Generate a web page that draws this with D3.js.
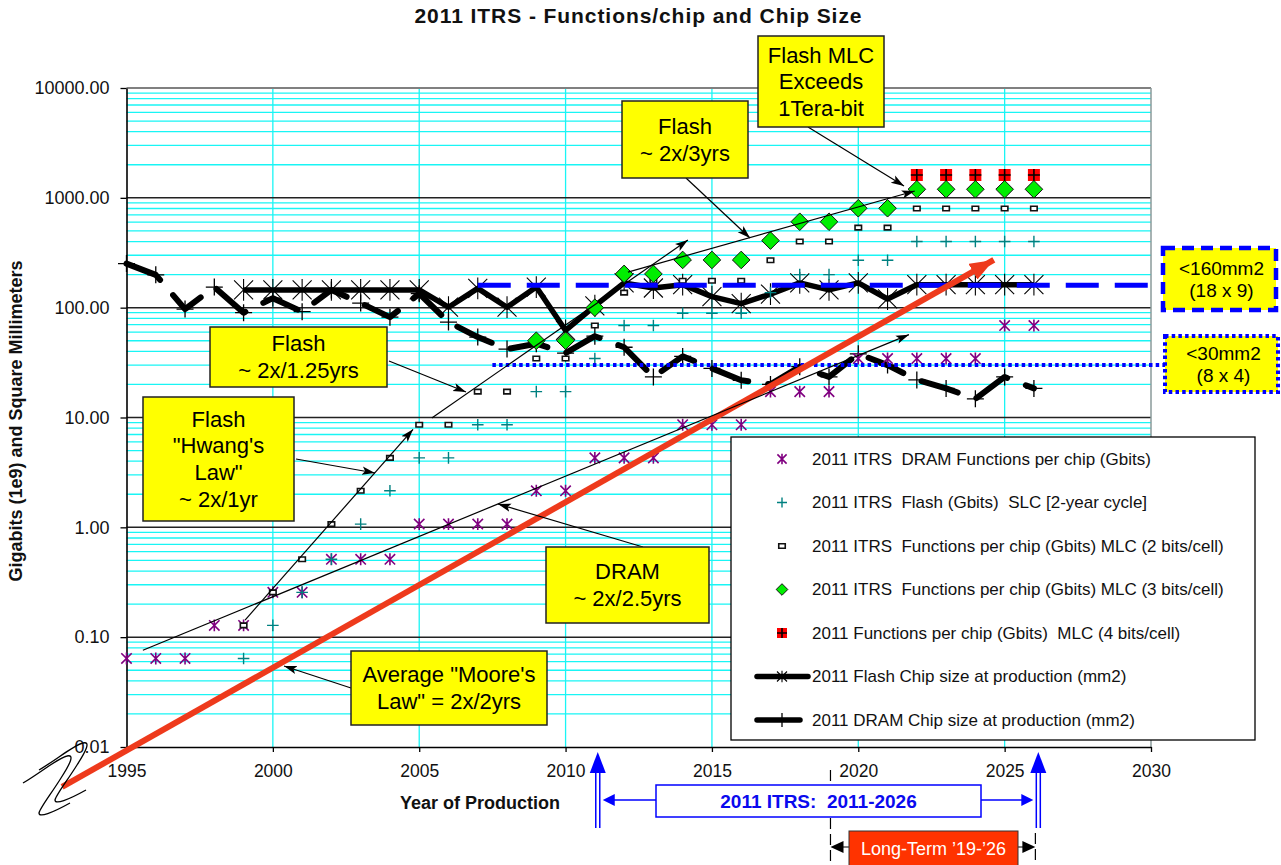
<!DOCTYPE html>
<html>
<head>
<meta charset="utf-8">
<title>2011 ITRS - Functions/chip and Chip Size</title>
<script src="https://cdn.jsdelivr.net/npm/d3@7"></script>
<style>
  body { margin: 0; background: #fff; }
  svg { display: block; font-family: "Liberation Sans", Arial, sans-serif; }
</style>
</head>
<body>
<svg id="chart" width="1281" height="865"></svg>
<script>
// ---- data ----
const years = [1995, 1996, 1997, 1998, 1999, 2000, 2001, 2002, 2003, 2004, 2005, 2006, 2007, 2008, 2009, 2010,
               2011, 2012, 2013, 2014, 2015, 2016, 2017, 2018, 2019, 2020, 2021, 2022, 2023, 2024, 2025, 2026];

// Gbits per chip
const dramGbits = [0.064, 0.064, 0.064, 0.128, 0.128, 0.256, 0.256, 0.512, 0.512, 0.512, 1.07, 1.07, 1.07, 1.07, 2.15, 2.15,
                   4.29, 4.29, 4.29, 8.59, 8.59, 8.59, 17.2, 17.2, 17.2, 34.4, 34.4, 34.4, 34.4, 34.4, 68.7, 68.7];
const flashSlcGbits = [null, null, null, null, 0.064, 0.128, 0.256, 0.512, 1.07, 2.15, 4.29, 4.29, 8.59, 8.59, 17.2, 17.2,
                       34.4, 68.7, 68.7, 89, 89, 89, 137, 200, 200, 270, 270, 400, 400, 400, 400, 400];
const mlc2Gbits = [null, null, null, null, 0.128, 0.256, 0.512, 1.07, 2.15, 4.29, 8.59, 8.59, 17.2, 17.2, 34.4, 34.4,
                   68.7, 137, 176, 176, 176, 176, 270, 400, 400, 535, 535, 800, 800, 800, 800, 800];
const mlc3Gbits = [null, null, null, null, null, null, null, null, null, null, null, null, null, null, 50, 50,
                   100, 203, 203, 272, 272, 272, 408, 606, 606, 804, 804, 1197, 1197, 1197, 1197, 1197];
const mlc4Gbits = [null, null, null, null, null, null, null, null, null, null, null, null, null, null, null, null,
                   null, null, null, null, null, null, null, null, null, null, null, 1614, 1614, 1614, 1614, 1614];

// chip size, mm2
const flashChipMm2 = [null, null, null, null, 145, 145, 145, 145, 145, 145, 145, 101, 150, 101, 154, 62,
                      104, 168, 151, 162, 126, 109, 133, 168, 145, 168, 120, 162, 162, 162, 162, 162];
const dramChipMm2 = [252, 199, 97, 154, 90, 122, 92, 145, 110, 82, 134, 74, 54, 42, 47, 38.6,
                     55, 43.6, 23.4, 36, 28, 21.8, 20, 29, 23.4, 38, 30, 22, 18.4, 14.8, 23.4, 18.4];

// trend lines, [year, value]
const dramTrend = [[1995.56, 0.076], [2021.73, 56.8]];
const hwangTrend = [[1999.05, 0.143], [2004.79, 7.8]];
const flash125Trend = [[2005.43, 9.9], [2014.18, 413]];
const flash3Trend = [[2012.13, 211], [2021.93, 1153]];
const mooreTrend = [[1992.8, 0.00433], [2024.63, 272]];

// chip-size limits, [start year, mm2]
const limit160 = [2007.0, 160];
const limit30 = [2007.5, 30];

const itrsSpan = [2011.1, 2026.15];
const longTermSpan = [2019.05, 2026.05];

const yTicks = [0.01, 0.1, 1, 10, 100, 1000, 10000];
const xTicks = [1995, 2000, 2005, 2010, 2015, 2020, 2025, 2030];

const legendLabels = [
  "2011 ITRS  DRAM Functions per chip (Gbits)",
  "2011 ITRS  Flash (Gbits)  SLC [2-year cycle]",
  "2011 ITRS  Functions per chip (Gbits) MLC (2 bits/cell)",
  "2011 ITRS  Functions per chip (Gbits) MLC (3 bits/cell)",
  "2011 Functions per chip (Gbits)  MLC (4 bits/cell)",
  "2011 Flash Chip size at production (mm2)",
  "2011 DRAM Chip size at production (mm2)"
];

// ---- chart ----
const svg = d3.select("#chart");
const x = d3.scaleLinear().domain([1995, 2030]).range([126.5, 1151]);
const y = d3.scaleLog().domain([0.01, 10000]).range([747, 88]);

const rows = years.map((yr, i) => ({
  year: yr, dram: dramGbits[i], slc: flashSlcGbits[i], mlc2: mlc2Gbits[i],
  mlc3: mlc3Gbits[i], mlc4: mlc4Gbits[i], flashChip: flashChipMm2[i], dramChip: dramChipMm2[i]
}));

const defs = svg.append("defs");
defs.append("marker").attr("id", "arrowBlack").attr("markerUnits", "userSpaceOnUse")
    .attr("markerWidth", 14).attr("markerHeight", 10).attr("refX", 13).attr("refY", 5)
    .attr("orient", "auto")
  .append("path").attr("d", "M0,0.8L13,5L0,9.2L3,5Z").attr("fill", "#000");
defs.append("marker").attr("id", "arrowRed").attr("markerUnits", "userSpaceOnUse")
    .attr("markerWidth", 26).attr("markerHeight", 18).attr("refX", 24).attr("refY", 9)
    .attr("orient", "auto")
  .append("path").attr("d", "M0,0L24,9L0,18Z").attr("fill", "#ee3a1c");

// grid
const minorTicks = yTicks.slice(0, -1).flatMap(d => [2, 3, 4, 5, 6, 7, 8, 9].map(k => d * k));
const grid = svg.append("g");
grid.selectAll(".minor").data(minorTicks).enter().append("line")
    .attr("x1", x(1995)).attr("x2", x(2030))
    .attr("y1", d => y(d)).attr("y2", d => y(d))
    .attr("stroke", "#19f5f5").attr("stroke-width", 1.3);
grid.selectAll(".vgrid").data(xTicks.slice(1, -1)).enter().append("line")
    .attr("x1", d => x(d)).attr("x2", d => x(d))
    .attr("y1", y(10000)).attr("y2", y(0.01))
    .attr("stroke", "#19f5f5").attr("stroke-width", 1.3);
grid.selectAll(".major").data(yTicks.slice(1, -1)).enter().append("line")
    .attr("x1", x(1995)).attr("x2", x(2030))
    .attr("y1", d => y(d)).attr("y2", d => y(d))
    .attr("stroke", "#222").attr("stroke-width", 1.5);
grid.append("line").attr("x1", x(1995)).attr("x2", x(2030)).attr("y1", y(10000)).attr("y2", y(10000))
    .attr("stroke", "#808080").attr("stroke-width", 2);
grid.append("line").attr("x1", x(2030)).attr("x2", x(2030)).attr("y1", y(10000)).attr("y2", y(0.01))
    .attr("stroke", "#8a9a9a").attr("stroke-width", 1.5);

// axes
const yAxis = d3.axisLeft(y).tickValues(yTicks).tickFormat(d3.format(".2f"))
    .tickSize(6).tickSizeOuter(0).tickPadding(11);
const gy = svg.append("g").attr("transform", `translate(${x(1995)},0)`).call(yAxis);
const xAxis = d3.axisBottom(x).tickValues(xTicks).tickFormat(d3.format("d"))
    .tickSize(5).tickSizeOuter(0).tickPadding(13);
const gx = svg.append("g").attr("transform", `translate(0,${y(0.01)})`).call(xAxis);
[gy, gx].forEach(g => {
  g.select(".domain").attr("stroke", "#000").attr("stroke-width", 1.6);
  g.selectAll(".tick line").attr("stroke", "#000").attr("stroke-width", 1.3);
  g.selectAll("text").attr("font-size", 18).attr("fill", "#111")
   .attr("font-family", "'Liberation Sans', Arial, sans-serif");
});
gx.selectAll("text").attr("font-size", 17.5);

// marker shapes
const shapes = {
  star: s => `M${-s},${-s}L${s},${s}M${-s},${s}L${s},${-s}M0,${-s * 1.15}L0,${s * 1.15}`,
  plus: s => `M${-s},0L${s},0M0,${-s}L0,${s}`,
  diamond: s => `M0,${-s}L${s},0L0,${s}L${-s},0Z`,
  rect: (w, h) => `M${-w / 2},${-h / 2}h${w}v${h}h${-w}Z`
};
function drawMarker(g, type, cx, cy, small) {
  const t = `translate(${cx},${cy})`;
  if (type === "dram") {
    g.append("path").attr("transform", t).attr("d", shapes.star(small ? 4.6 : 5.2))
     .attr("stroke", "#800080").attr("stroke-width", 1.6).attr("fill", "none");
  } else if (type === "slc") {
    g.append("path").attr("transform", t).attr("d", shapes.plus(small ? 5 : 5.8))
     .attr("stroke", "#008080").attr("stroke-width", 1.4).attr("fill", "none");
  } else if (type === "mlc2") {
    g.append("path").attr("transform", t).attr("d", shapes.rect(6.5, 4.5))
     .attr("stroke", "#111").attr("stroke-width", 1.6).attr("fill", "#fff");
  } else if (type === "mlc3") {
    g.append("path").attr("transform", t).attr("d", shapes.diamond(small ? 5.8 : 8.8))
     .attr("stroke", "#111").attr("stroke-width", 1).attr("fill", "#00ee00");
  } else if (type === "mlc4") {
    const s = small ? 10 : 12;
    g.append("path").attr("transform", t).attr("d", shapes.rect(s, s)).attr("fill", "#ff0000");
    g.append("path").attr("transform", t).attr("d", shapes.plus(s / 2))
     .attr("stroke", "#000").attr("stroke-width", 1.6).attr("fill", "none");
  } else if (type === "flashChip") {
    g.append("path").attr("transform", t).attr("d", shapes.star(small ? 5 : 9.5))
     .attr("stroke", "#000").attr("stroke-width", 1.1).attr("fill", "none");
  } else if (type === "dramChip") {
    g.append("path").attr("transform", t).attr("d", small ? "M0,-7L0,7" : shapes.plus(8.5))
     .attr("stroke", "#000").attr("stroke-width", 1.3).attr("fill", "none");
  }
}

// chip-size lines
const lineFor = key => d3.line().defined(d => d[key] != null).x(d => x(d.year)).y(d => y(d[key]));
svg.append("path").datum(rows).attr("d", lineFor("dramChip"))
    .attr("fill", "none").attr("stroke", "#000").attr("stroke-width", 6)
    .attr("stroke-dasharray", "38 20").attr("stroke-linecap", "round").attr("stroke-linejoin", "round");
svg.append("path").datum(rows).attr("d", lineFor("flashChip"))
    .attr("fill", "none").attr("stroke", "#000").attr("stroke-width", 5.5).attr("stroke-linejoin", "round");

const marks = svg.append("g");
["dramChip", "flashChip", "dram", "slc", "mlc2", "mlc3", "mlc4"].forEach(key => {
  rows.filter(d => d[key] != null).forEach(d => drawMarker(marks, key, x(d.year), y(d[key]), false));
});

// limit lines
svg.append("line").attr("x1", x(limit160[0])).attr("x2", 1163)
    .attr("y1", y(limit160[1])).attr("y2", y(limit160[1]))
    .attr("stroke", "#0000ff").attr("stroke-width", 5).attr("stroke-dasharray", "33 16");
svg.append("line").attr("x1", x(limit30[0])).attr("x2", 1165)
    .attr("y1", y(limit30[1])).attr("y2", y(limit30[1]))
    .attr("stroke", "#0000ff").attr("stroke-width", 4).attr("stroke-dasharray", "3.5 3.2");

// Moore's law line
svg.append("line")
    .attr("x1", x(mooreTrend[0][0])).attr("y1", y(mooreTrend[0][1]))
    .attr("x2", x(mooreTrend[1][0])).attr("y2", y(mooreTrend[1][1]))
    .attr("stroke", "#ee3a1c").attr("stroke-width", 6).attr("marker-end", "url(#arrowRed)");

// trend lines
[dramTrend, hwangTrend, flash125Trend, flash3Trend].forEach(t => {
  svg.append("line")
      .attr("x1", x(t[0][0])).attr("y1", y(t[0][1]))
      .attr("x2", x(t[1][0])).attr("y2", y(t[1][1]))
      .attr("stroke", "#000").attr("stroke-width", 1.2).attr("marker-end", "url(#arrowBlack)");
});

// axis break symbol
const zPath = "M23,783 C40,773 58,758 67,756 C75,754 70,764 61,778 C51,794 40,808 39,813 C39,818 52,813 70,803";
svg.append("path").attr("d", zPath).attr("fill", "none").attr("stroke", "#000").attr("stroke-width", 1.3);
svg.append("path").attr("d", zPath).attr("transform", "translate(16,-13)")
    .attr("fill", "none").attr("stroke", "#000").attr("stroke-width", 1.3);

// callout boxes
const callouts = [
  { lines: ["Flash", "~ 2x/1.25yrs"], box: [210, 327, 177, 60], arrow: [[389, 361], [466, 392]] },
  { lines: ["Flash", "\"Hwang's", "Law\"", "~ 2x/1yr"], box: [143, 397, 151, 124], arrow: [[296, 459], [375, 473]] },
  { lines: ["Flash", "~ 2x/3yrs"], box: [622, 101, 126, 77], arrow: [[686, 178], [750, 238]] },
  { lines: ["Flash MLC", "Exceeds", "1Tera-bit"], box: [758, 36, 126, 91], arrow: [[808, 127], [904, 186]] },
  { lines: ["DRAM", "~ 2x/2.5yrs"], box: [546, 547, 163, 76], arrow: [[643, 547], [498, 504]] },
  { lines: ["Average \"Moore's", "Law\" = 2x/2yrs"], box: [351, 651, 196, 74], arrow: [[351, 688], [284, 666]] }
];
const cg = svg.append("g");
callouts.forEach(c => {
  cg.append("line").attr("x1", c.arrow[0][0]).attr("y1", c.arrow[0][1])
    .attr("x2", c.arrow[1][0]).attr("y2", c.arrow[1][1])
    .attr("stroke", "#000").attr("stroke-width", 1.2).attr("marker-end", "url(#arrowBlack)");
  const [bx, by, bw, bh] = c.box;
  cg.append("rect").attr("x", bx).attr("y", by).attr("width", bw).attr("height", bh)
    .attr("fill", "#ffff00").attr("stroke", "#222").attr("stroke-width", 1.5);
  const lh = 26.6;
  const top = by + bh / 2 - (c.lines.length - 1) * lh / 2;
  c.lines.forEach((s, i) => {
    cg.append("text").attr("x", bx + bw / 2).attr("y", top + i * lh).attr("dy", "0.35em")
      .attr("text-anchor", "middle").attr("font-size", 22).attr("fill", "#000").text(s);
  });
});

// legend
const lg = svg.append("g");
lg.append("rect").attr("x", 731).attr("y", 437).attr("width", 524).attr("height", 303)
    .attr("fill", "#fff").attr("stroke", "#000").attr("stroke-width", 1.3);
const legendKeys = ["dram", "slc", "mlc2", "mlc3", "mlc4", "flashChip", "dramChip"];
legendKeys.forEach((key, i) => {
  const ly = 459 + i * 43.5;
  if (key === "flashChip" || key === "dramChip") {
    lg.append("line").attr("x1", 757).attr("x2", key === "flashChip" ? 808 : 800)
      .attr("y1", ly).attr("y2", ly).attr("stroke", "#000").attr("stroke-width", 5.5)
      .attr("stroke-linecap", "round");
  }
  drawMarker(lg, key, 782, ly, true);
  lg.append("text").attr("x", 812).attr("y", ly).attr("dy", "0.35em")
    .attr("font-size", 17).attr("fill", "#111")
    .style("white-space", "pre").text(legendLabels[i]);
});

// limit boxes
const limitBoxes = [
  { lines: ["<160mm2", "(18 x 9)"], box: [1163, 248, 113, 62], dash: "12 7", w: 4.5 },
  { lines: ["<30mm2", "(8 x 4)"], box: [1165, 336, 113, 56], dash: "3.5 3.2", w: 4 }
];
limitBoxes.forEach(c => {
  const [bx, by, bw, bh] = c.box;
  svg.append("rect").attr("x", bx).attr("y", by).attr("width", bw).attr("height", bh)
    .attr("fill", "#ffff00").attr("stroke", "#0000ff").attr("stroke-width", c.w)
    .attr("stroke-dasharray", c.dash);
  c.lines.forEach((s, i) => {
    svg.append("text").attr("x", bx + bw / 2 + 2).attr("y", by + bh / 2 + (i - 0.5) * 22).attr("dy", "0.35em")
      .attr("text-anchor", "middle").attr("font-size", 19).attr("fill", "#000").text(s);
  });
});

// bottom annotations: ITRS range
const bg = svg.append("g");
const lx1 = x(longTermSpan[0]), lx2 = x(longTermSpan[1]);
bg.append("line").attr("x1", lx1).attr("x2", lx1).attr("y1", 770).attr("y2", 865)
  .attr("stroke", "#000").attr("stroke-width", 1.2).attr("stroke-dasharray", "11 5");
bg.append("line").attr("x1", lx2).attr("x2", lx2).attr("y1", 833).attr("y2", 865)
  .attr("stroke", "#000").attr("stroke-width", 1.2).attr("stroke-dasharray", "11 5");

itrsSpan.forEach(yr => {
  const cx = x(yr);
  [-2, 2].forEach(o => bg.append("line").attr("x1", cx + o).attr("x2", cx + o)
    .attr("y1", 770).attr("y2", 828).attr("stroke", "#0000ff").attr("stroke-width", 1.5));
  bg.append("path").attr("d", `M${cx},752L${cx - 8},773L${cx + 8},773Z`).attr("fill", "#0000ff");
});
const ix1 = x(itrsSpan[0]) + 5, ix2 = x(itrsSpan[1]) - 5;
bg.append("line").attr("x1", ix1 + 10).attr("x2", ix2 - 10).attr("y1", 800).attr("y2", 800)
  .attr("stroke", "#0000ff").attr("stroke-width", 1.5);
bg.append("path").attr("d", `M${ix1},800L${ix1 + 12},794L${ix1 + 12},806Z`).attr("fill", "#0000ff");
bg.append("path").attr("d", `M${ix2},800L${ix2 - 12},794L${ix2 - 12},806Z`).attr("fill", "#0000ff");
bg.append("rect").attr("x", 656).attr("y", 785).attr("width", 325).attr("height", 32)
  .attr("fill", "#fff").attr("stroke", "#0000ff").attr("stroke-width", 1.5);
bg.append("text").attr("x", 818.5).attr("y", 801).attr("dy", "0.35em").attr("text-anchor", "middle")
  .attr("font-size", 19).attr("font-weight", "bold").attr("fill", "#0a0aee")
  .style("white-space", "pre").text("2011 ITRS:  2011-2026");

bg.append("line").attr("x1", lx1 + 12).attr("x2", lx2 - 12).attr("y1", 847).attr("y2", 847)
  .attr("stroke", "#000").attr("stroke-width", 1.2);
bg.append("path").attr("d", `M${lx1},847L${lx1 + 13},841L${lx1 + 13},853Z`).attr("fill", "#000");
bg.append("path").attr("d", `M${lx2},847L${lx2 - 13},841L${lx2 - 13},853Z`).attr("fill", "#000");
bg.append("rect").attr("x", 849).attr("y", 831).attr("width", 169).attr("height", 36)
  .attr("fill", "#ff3300").attr("stroke", "#333").attr("stroke-width", 1);
bg.append("text").attr("x", 933.5).attr("y", 849).attr("dy", "0.35em").attr("text-anchor", "middle")
  .attr("font-size", 18).attr("fill", "#fff").text("Long-Term \u201919-\u201926");

// titles
svg.append("text").attr("x", 638).attr("y", 23).attr("text-anchor", "middle")
   .attr("font-size", 21).attr("font-weight", "bold").attr("fill", "#111")
   .attr("textLength", 447).attr("lengthAdjust", "spacing")
   .text("2011 ITRS - Functions/chip and Chip Size");
svg.append("text").attr("transform", "translate(22,421) rotate(-90)").attr("text-anchor", "middle")
   .attr("font-size", 18).attr("font-weight", "bold").attr("fill", "#111")
   .text("Gigabits (1e9) and Square Millimeters");
svg.append("text").attr("x", 480).attr("y", 809).attr("text-anchor", "middle")
   .attr("font-size", 18).attr("font-weight", "bold").attr("fill", "#111")
   .text("Year of Production");
</script>
</body>
</html>
